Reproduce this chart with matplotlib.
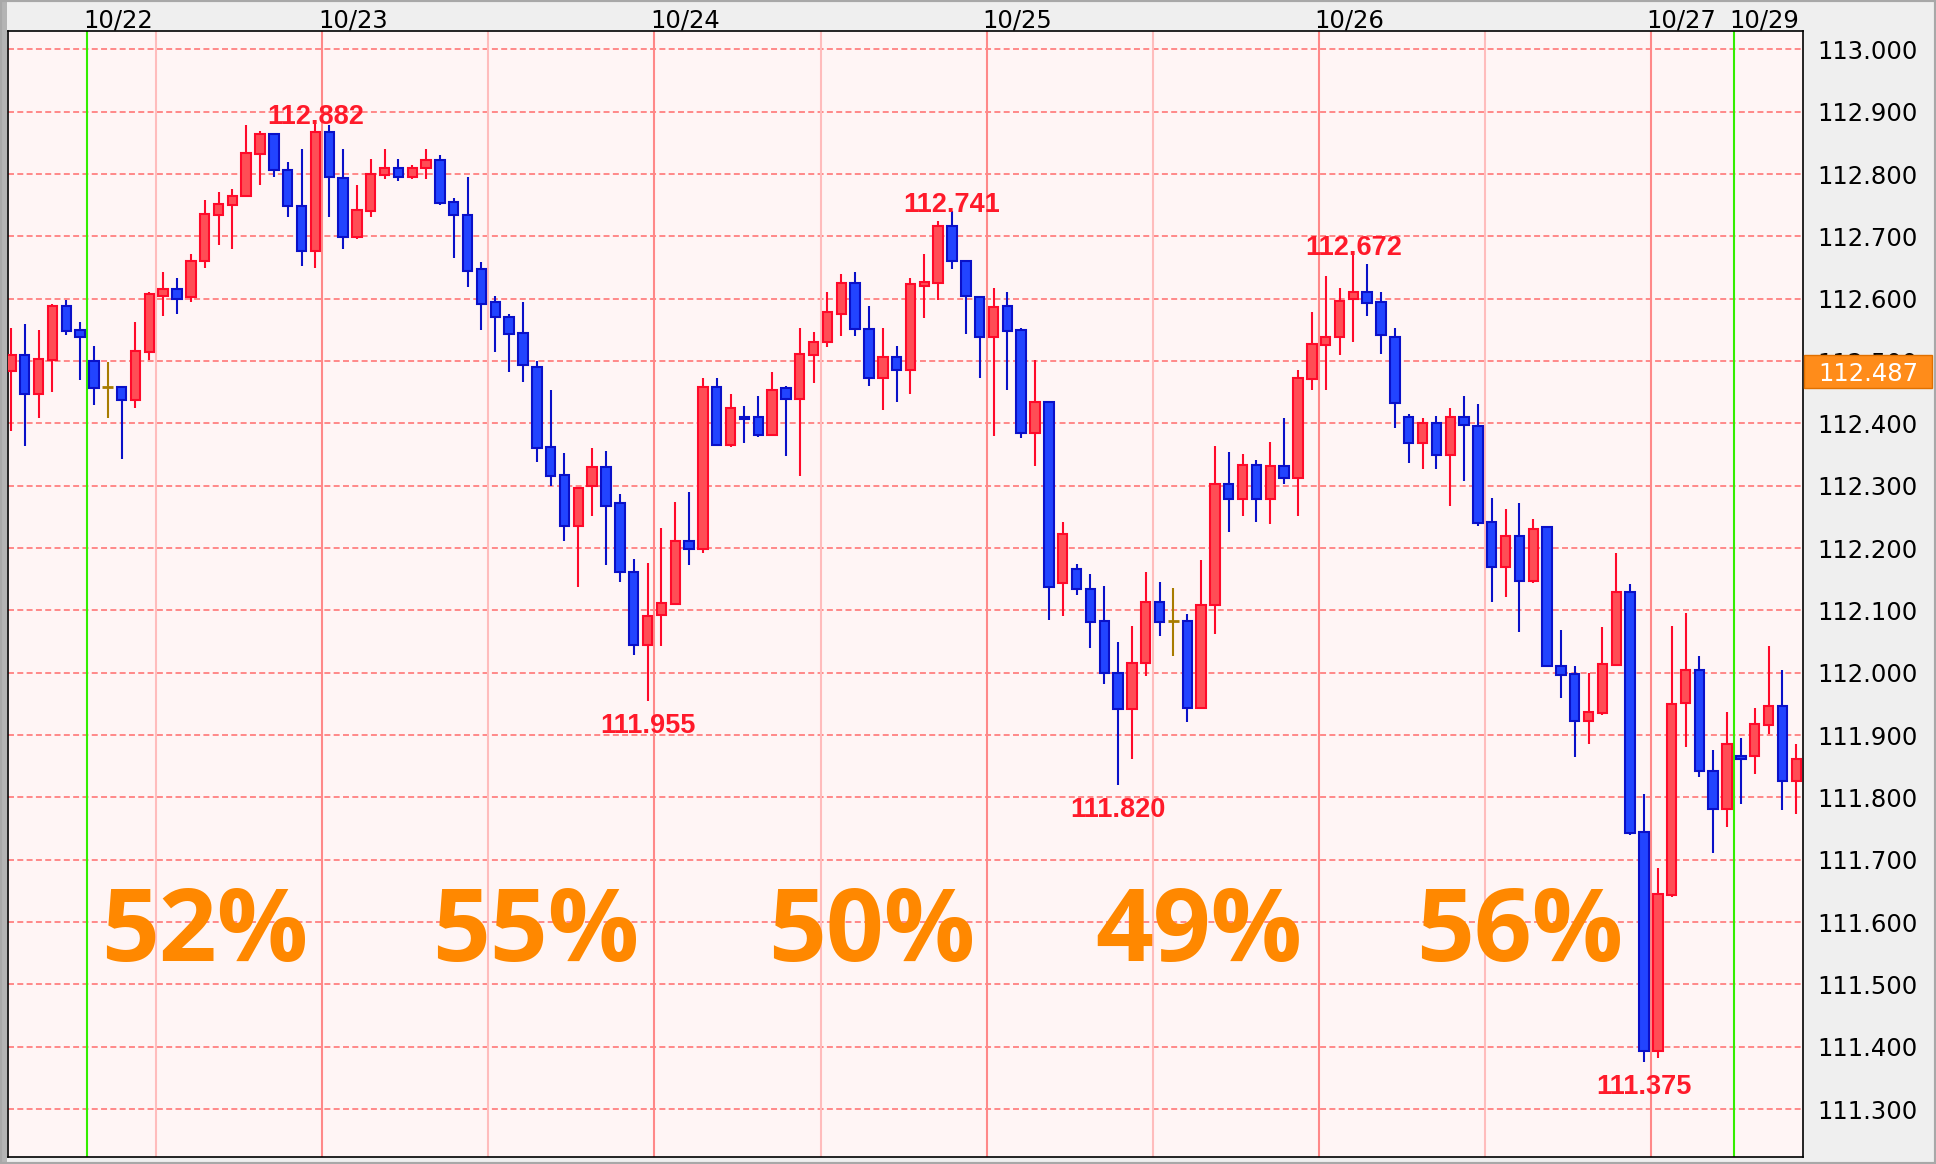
import numpy as np
import matplotlib
matplotlib.use('Agg')
import matplotlib.pyplot as plt
import matplotlib.transforms as mtransforms
from matplotlib.patches import Rectangle

plt.rcParams['font.family'] = 'DejaVu Sans'
plt.rcParams['lines.scale_dashes'] = False

# ============================================================
# Data: hourly USD/JPY candles (index 0..129)
# ============================================================

opens = [
    112.484, 112.510, 112.447, 112.502, 112.588, 112.549, 112.500, 112.458, 112.458, 112.438,
    112.515, 112.605, 112.616, 112.602, 112.660, 112.735, 112.751, 112.764, 112.832, 112.865,
    112.807, 112.749, 112.677, 112.868, 112.794, 112.699, 112.741, 112.799, 112.810, 112.796,
    112.809, 112.823, 112.755, 112.735, 112.648, 112.594, 112.571, 112.545, 112.491, 112.362,
    112.317, 112.235, 112.300, 112.330, 112.272, 112.162, 112.045, 112.092, 112.111, 112.212,
    112.199, 112.459, 112.365, 112.411, 112.411, 112.381, 112.456, 112.439, 112.510, 112.530,
    112.576, 112.626, 112.552, 112.473, 112.506, 112.486, 112.620, 112.625, 112.716, 112.661,
    112.603, 112.538, 112.588, 112.549, 112.384, 112.434, 112.144, 112.167, 112.135, 112.083,
    112.000, 111.941, 112.015, 112.113, 112.083, 112.083, 111.944, 112.108, 112.302, 112.278,
    112.334, 112.278, 112.331, 112.313, 112.471, 112.525, 112.538, 112.599, 112.610, 112.594,
    112.539, 112.411, 112.368, 112.401, 112.349, 112.411, 112.395, 112.241, 112.170, 112.219,
    112.147, 112.233, 112.011, 111.998, 111.923, 111.935, 112.012, 112.130, 111.744, 111.393,
    111.644, 111.951, 112.004, 111.843, 111.781, 111.866, 111.866, 111.916, 111.946, 111.826,
]
highs = [
    112.553, 112.559, 112.550, 112.592, 112.598, 112.562, 112.524, 112.498, 112.458, 112.562,
    112.610, 112.643, 112.633, 112.672, 112.759, 112.772, 112.776, 112.879, 112.869, 112.866,
    112.820, 112.840, 112.882, 112.878, 112.840, 112.782, 112.824, 112.840, 112.824, 112.814,
    112.840, 112.830, 112.762, 112.795, 112.659, 112.604, 112.575, 112.595, 112.500, 112.453,
    112.353, 112.297, 112.360, 112.356, 112.286, 112.183, 112.176, 112.232, 112.274, 112.290,
    112.473, 112.473, 112.447, 112.428, 112.444, 112.483, 112.460, 112.553, 112.547, 112.611,
    112.640, 112.643, 112.588, 112.553, 112.524, 112.633, 112.672, 112.724, 112.741, 112.661,
    112.603, 112.617, 112.611, 112.553, 112.501, 112.434, 112.242, 112.174, 112.158, 112.139,
    112.049, 112.075, 112.161, 112.145, 112.136, 112.094, 112.181, 112.364, 112.354, 112.351,
    112.341, 112.370, 112.409, 112.486, 112.579, 112.636, 112.617, 112.672, 112.655, 112.611,
    112.553, 112.415, 112.409, 112.412, 112.425, 112.444, 112.431, 112.281, 112.263, 112.272,
    112.246, 112.236, 112.069, 112.011, 111.999, 112.073, 112.192, 112.143, 111.806, 111.687,
    112.075, 112.095, 112.027, 111.876, 111.937, 111.896, 111.944, 112.043, 112.005, 111.886,
]
lows = [
    112.388, 112.363, 112.408, 112.450, 112.541, 112.470, 112.430, 112.408, 112.343, 112.424,
    112.501, 112.573, 112.576, 112.595, 112.650, 112.686, 112.679, 112.764, 112.783, 112.796,
    112.731, 112.653, 112.650, 112.731, 112.679, 112.695, 112.731, 112.792, 112.789, 112.792,
    112.792, 112.750, 112.666, 112.618, 112.550, 112.515, 112.483, 112.466, 112.338, 112.299,
    112.212, 112.138, 112.251, 112.173, 112.145, 112.029, 111.955, 112.043, 112.108, 112.172,
    112.192, 112.365, 112.362, 112.368, 112.378, 112.381, 112.348, 112.316, 112.464, 112.522,
    112.540, 112.540, 112.460, 112.421, 112.434, 112.447, 112.569, 112.598, 112.647, 112.544,
    112.473, 112.379, 112.454, 112.377, 112.332, 112.085, 112.091, 112.124, 112.039, 111.982,
    111.820, 111.861, 111.995, 112.059, 112.027, 111.921, 111.944, 112.062, 112.226, 112.252,
    112.242, 112.239, 112.303, 112.252, 112.454, 112.454, 112.509, 112.531, 112.573, 112.512,
    112.393, 112.336, 112.326, 112.326, 112.268, 112.307, 112.236, 112.114, 112.121, 112.066,
    112.144, 112.010, 111.960, 111.864, 111.886, 111.932, 112.010, 111.740, 111.375, 111.382,
    111.640, 111.880, 111.832, 111.710, 111.752, 111.790, 111.838, 111.901, 111.780, 111.774,
]
closes = [
    112.510, 112.447, 112.504, 112.588, 112.548, 112.538, 112.457, 112.458, 112.438, 112.516,
    112.607, 112.616, 112.599, 112.661, 112.736, 112.752, 112.765, 112.833, 112.865, 112.806,
    112.748, 112.677, 112.868, 112.796, 112.699, 112.742, 112.800, 112.810, 112.796, 112.810,
    112.823, 112.754, 112.734, 112.644, 112.592, 112.570, 112.544, 112.493, 112.361, 112.316,
    112.235, 112.297, 112.330, 112.267, 112.161, 112.045, 112.091, 112.112, 112.212, 112.199,
    112.459, 112.365, 112.424, 112.407, 112.381, 112.453, 112.439, 112.511, 112.530, 112.578,
    112.626, 112.551, 112.473, 112.506, 112.486, 112.623, 112.627, 112.716, 112.660, 112.605,
    112.538, 112.587, 112.548, 112.384, 112.434, 112.138, 112.222, 112.134, 112.082, 111.999,
    111.941, 112.016, 112.113, 112.082, 112.083, 111.944, 112.109, 112.302, 112.278, 112.334,
    112.278, 112.331, 112.313, 112.472, 112.527, 112.539, 112.597, 112.610, 112.593, 112.541,
    112.432, 112.368, 112.401, 112.349, 112.411, 112.397, 112.240, 112.169, 112.219, 112.147,
    112.230, 112.010, 111.997, 111.923, 111.937, 112.014, 112.130, 111.743, 111.393, 111.645,
    111.949, 112.004, 111.842, 111.781, 111.885, 111.862, 111.917, 111.946, 111.826, 111.862,
]

# separators (positions between candles)
day_lines  = [22.5, 46.5, 70.5, 94.5, 118.5]
half_lines = [10.5, 34.5, 58.5, 82.5, 106.5]
week_lines = [5.5, 124.5]

date_labels = ['10/22', '10/23', '10/24', '10/25', '10/26', '10/27', '10/29']
date_pos    = [5.5, 22.5, 46.5, 70.5, 94.5, 118.5, 124.5]

pct_labels = ['52%', '55%', '50%', '49%', '56%']
pct_pos    = [14.0, 37.9, 62.2, 85.8, 109.0]

mark_idx  = [22, 46, 68, 80, 97, 118]
mark_text = ['112.882', '111.955', '112.741', '111.820', '112.672', '111.375']
mark_high = [True, False, True, False, True, False]

last_price = 112.487

# ============================================================
# Figure
# ============================================================

W, H = 1936, 1164
fig = plt.figure(figsize=(W / 100, H / 100), dpi=100, facecolor='#efefef')
ax = fig.add_axes([8 / W, 1 - 1157 / H, (1803 - 8) / W, (1157 - 31) / H])
ax.set_facecolor('#fff5f5')
ax.set_xlim(-0.21, 129.49)
ax.set_ylim(111.223, 113.0295)

# grid
for yv in np.arange(111.3, 113.05, 0.1):
    ax.axhline(yv, color='#ff8080', lw=1.3, dashes=(4.3, 2.4), zorder=1)
for xv in half_lines:
    ax.axvline(xv, color='#ffbcbc', lw=1.5, zorder=1.1)
for xv in day_lines:
    ax.axvline(xv, color='#ff8888', lw=1.5, zorder=1.2)
for xv in week_lines:
    ax.axvline(xv, color='#33ee00', lw=1.5, zorder=1.3)

# candles
o = np.array(opens); h = np.array(highs); l = np.array(lows); c = np.array(closes)
x = np.arange(len(o))
up = c > o
dn = c < o
dj = c == o

BULL_EDGE, BULL_FILL = '#ff0a2a', '#ff4d55'
BEAR_EDGE, BEAR_FILL = '#0a10c8', '#2244ff'
DOJI = '#a87c00'
BW = 0.68

ax.vlines(x[up], l[up], h[up], colors=BULL_EDGE, lw=1.5, zorder=2)
ax.vlines(x[dn], l[dn], h[dn], colors=BEAR_EDGE, lw=1.5, zorder=2)
ax.vlines(x[dj], l[dj], h[dj], colors=DOJI, lw=1.5, zorder=2)

ax.bar(x[up], c[up] - o[up], bottom=o[up], width=BW,
       color=BULL_FILL, edgecolor=BULL_EDGE, linewidth=1.5, zorder=3)
ax.bar(x[dn], o[dn] - c[dn], bottom=c[dn], width=BW,
       color=BEAR_FILL, edgecolor=BEAR_EDGE, linewidth=1.5, zorder=3)
ax.hlines(o[dj], x[dj] - BW / 2 - 0.05, x[dj] + BW / 2 + 0.05, colors=DOJI, lw=2, zorder=3)

# high / low marks
for i, txt, is_high in zip(mark_idx, mark_text, mark_high):
    if is_high:
        ax.annotate(txt, (i, h[i]), xytext=(0, -1), textcoords='offset points',
                    ha='center', va='baseline', fontsize=19.5, fontweight='bold',
                    family='Liberation Sans', color='#ff1a2a', zorder=5)
    else:
        ax.annotate(txt, (i, l[i]), xytext=(0, -8.5), textcoords='offset points',
                    ha='center', va='top', fontsize=19.5, fontweight='bold',
                    family='Liberation Sans', color='#ff1a2a', zorder=5)

# big percentages
for xp, txt in zip(pct_pos, pct_labels):
    ax.text(xp, 111.538, txt, ha='center', va='baseline', fontsize=73,
            fontweight='bold', family='Open Sans', color='#ff8800', zorder=4)

# axes / ticks
ax.set_xticks([])
ax.yaxis.tick_right()
yt = np.round(np.arange(111.3, 113.001, 0.1), 1)
ax.set_yticks(yt)
ax.set_yticklabels([f'{v:.3f}' for v in yt])
ax.tick_params(axis='y', length=0, pad=10.5, labelsize=17.5, labelcolor='black')
for sp in ax.spines.values():
    sp.set_color('black')
    sp.set_linewidth(1.2)

# date labels on top
top_tr = mtransforms.blended_transform_factory(ax.transData, ax.transAxes)
for xp, lab in zip(date_pos, date_labels):
    ax.text(xp - 0.3, 1 + 3 / 1126, lab, transform=top_tr, ha='left', va='baseline',
            fontsize=17.5, color='black', clip_on=False)

# current price box (sits over the 112.500 label, as in the original)
box_tr = mtransforms.blended_transform_factory(fig.transFigure, ax.transData)
box_h = 33 / 623.3
box_c = last_price - 2 / 623.3
ax.add_patch(Rectangle((1804 / W, box_c - box_h / 2), 128 / W, box_h,
                       transform=box_tr, facecolor='#ff8c1a', edgecolor='#e07000',
                       lw=1, clip_on=False, zorder=10))
ax.text(1818 / W, box_c, f'{last_price:.3f}', transform=box_tr, ha='left',
        va='center_baseline', fontsize=17.5, color='white', clip_on=False, zorder=11)

# window borders
fig.patches.append(Rectangle((0, 0), 7 / W, 1, transform=fig.transFigure,
                             facecolor='#b4b4b4', edgecolor='none', zorder=0))
fig.patches.append(Rectangle((0, 0), 1, 1, transform=fig.transFigure, fill=False,
                             edgecolor='#a8a8a8', lw=3, zorder=0))

fig.savefig('out.png', dpi=100, facecolor=fig.get_facecolor())
